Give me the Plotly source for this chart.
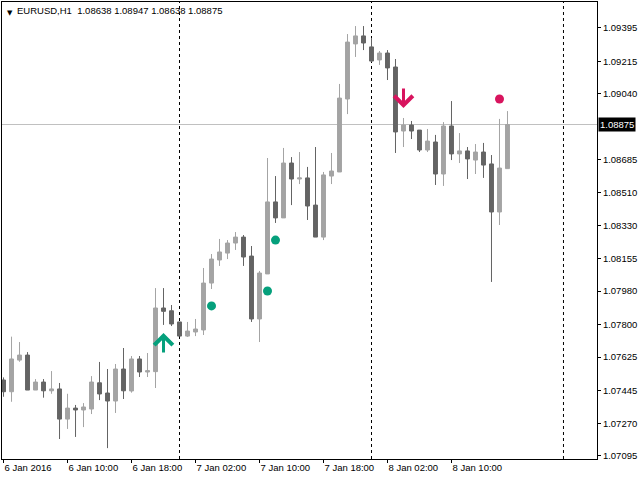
import plotly.graph_objects as go

# ---------------- data (EURUSD H1) ----------------
symbol_title = "EURUSD,H1"
first_bar_time = "2016-01-06 02:00"

open_ = [1.07502, 1.07439, 1.07609, 1.07636, 1.07448, 1.07491, 1.07444, 1.07454, 1.07292, 1.07351,
         1.07341, 1.07346, 1.07487, 1.07432, 1.07389, 1.07561, 1.07443, 1.07615, 1.07545, 1.07547,
         1.07889, 1.07874, 1.07814, 1.07738, 1.07760, 1.07771, 1.08023, 1.08147, 1.08184, 1.08238,
         1.08270, 1.08168, 1.07830, 1.08072, 1.08459, 1.08373, 1.08668, 1.08582, 1.08588, 1.08442,
         1.08270, 1.08598, 1.08620, 1.09012, 1.09308, 1.09351, 1.09292, 1.09222, 1.09259, 1.09184,
         1.08840, 1.08872, 1.08845, 1.08738, 1.08781, 1.08609, 1.08867, 1.08717, 1.08733, 1.08684,
         1.08727, 1.08663, 1.08405, 1.08638]

high = [1.07516, 1.07735, 1.07706, 1.07652, 1.07507, 1.07507, 1.07550, 1.07486, 1.07428, 1.07368,
        1.07378, 1.07523, 1.07599, 1.07561, 1.07588, 1.07674, 1.07631, 1.07631, 1.07647, 1.07996,
        1.07996, 1.07905, 1.07814, 1.07814, 1.07830, 1.08104, 1.08179, 1.08260, 1.08254, 1.08297,
        1.08281, 1.08222, 1.08088, 1.08695, 1.08598, 1.08749, 1.08700, 1.08727, 1.08647, 1.08754,
        1.08620, 1.08722, 1.09093, 1.09361, 1.09404, 1.09404, 1.09340, 1.09270, 1.09275, 1.09227,
        1.08910, 1.08894, 1.08845, 1.08851, 1.08819, 1.08888, 1.09001, 1.08829, 1.08754, 1.08770,
        1.08776, 1.08711, 1.08905, 1.08947]

low = [1.07412, 1.07385, 1.07600, 1.07448, 1.07448, 1.07407, 1.07428, 1.07185, 1.07239, 1.07196,
       1.07249, 1.07319, 1.07394, 1.07136, 1.07325, 1.07400, 1.07434, 1.07518, 1.07518, 1.07459,
       1.07798, 1.07792, 1.07738, 1.07733, 1.07738, 1.07744, 1.07991, 1.08115, 1.08152, 1.08201,
       1.08115, 1.07814, 1.07706, 1.08072, 1.08346, 1.08373, 1.08442, 1.08555, 1.08362, 1.08270,
       1.08254, 1.08555, 1.08620, 1.08931, 1.09238, 1.09275, 1.09211, 1.09195, 1.09114, 1.08722,
       1.08754, 1.08797, 1.08727, 1.08727, 1.08550, 1.08545, 1.08684, 1.08668, 1.08582, 1.08609,
       1.08588, 1.08029, 1.08335, 1.08638]

close = [1.07439, 1.07615, 1.07636, 1.07448, 1.07491, 1.07444, 1.07454, 1.07292, 1.07351, 1.07341,
         1.07357, 1.07491, 1.07427, 1.07389, 1.07561, 1.07444, 1.07615, 1.07545, 1.07552, 1.07889,
         1.07871, 1.07803, 1.07738, 1.07765, 1.07776, 1.08023, 1.08152, 1.08190, 1.08238, 1.08270,
         1.08163, 1.07830, 1.08077, 1.08459, 1.08373, 1.08668, 1.08582, 1.08588, 1.08437, 1.08270,
         1.08604, 1.08625, 1.09017, 1.09318, 1.09351, 1.09313, 1.09216, 1.09259, 1.09179, 1.08835,
         1.08872, 1.08840, 1.08738, 1.08786, 1.08609, 1.08867, 1.08717, 1.08733, 1.08690, 1.08727,
         1.08657, 1.08405, 1.08641, 1.08875]

# x tick labels (bar index -> label)
xtick_bars = [0, 8, 16, 24, 32, 40, 48, 56]
xtick_labels = ["6 Jan 2016", "6 Jan 10:00", "6 Jan 18:00", "7 Jan 02:00",
                "7 Jan 10:00", "7 Jan 18:00", "8 Jan 02:00", "8 Jan 10:00"]

# y tick labels
ytick_values = [1.09395, 1.09215, 1.09040, 1.08685, 1.08510, 1.08330, 1.08155,
                1.07980, 1.07800, 1.07625, 1.07445, 1.07270, 1.07095]

# day separators (bar index of 00:00)
separator_bars = [22, 46, 70]

# signals
buy_arrow_bars = [20]
buy_arrow_prices = [1.07755]
sell_arrow_bars = [50]
sell_arrow_prices = [1.08964]
buy_dot_bars = [26, 33, 34]
buy_dot_prices = [1.07900, 1.07980, 1.08254]
sell_dot_bars = [62]
sell_dot_prices = [1.09012]

current_price = 1.08875
last_ohlc = [1.08638, 1.08947, 1.08638, 1.08875]

# ---------------- style ----------------
BULL = "#a4a4a4"
BEAR = "#646464"
GREEN = "#05a07c"
RED = "#d8145e"
FONT = "Liberation Sans"
FS = 9.5

bars = list(range(len(open_)))

fig = go.Figure()

fig.add_trace(go.Candlestick(
    x=bars, open=open_, high=high, low=low, close=close,
    increasing=dict(line=dict(color=BULL, width=1), fillcolor=BULL),
    decreasing=dict(line=dict(color=BEAR, width=1), fillcolor=BEAR),
    whiskerwidth=0, showlegend=False, hoverinfo="skip",
))

fig.add_trace(go.Scatter(x=buy_dot_bars, y=buy_dot_prices, mode="markers",
                         marker=dict(size=9, color=GREEN), showlegend=False, hoverinfo="skip"))
fig.add_trace(go.Scatter(x=sell_dot_bars, y=sell_dot_prices, mode="markers",
                         marker=dict(size=9, color=RED), showlegend=False, hoverinfo="skip"))

shapes = [dict(type="line", xref="paper", x0=0, x1=1, yref="y", y0=current_price, y1=current_price,
               line=dict(color="#c0c0c0", width=1), layer="below")]
for b in separator_bars:
    shapes.append(dict(type="line", xref="x", x0=b, x1=b, yref="paper", y0=0, y1=1,
                       line=dict(color="black", width=1, dash="3px,3px"), layer="below"))

annotations = []
for b, p in zip(buy_arrow_bars, buy_arrow_prices):
    annotations.append(dict(x=b, y=p, xref="x", yref="y", ax=0, ay=21, text="",
                            showarrow=True, arrowhead=4, arrowsize=1.2, arrowwidth=3,
                            arrowcolor=GREEN))
for b, p in zip(sell_arrow_bars, sell_arrow_prices):
    annotations.append(dict(x=b, y=p, xref="x", yref="y", ax=0, ay=-21, text="",
                            showarrow=True, arrowhead=4, arrowsize=1.2, arrowwidth=3,
                            arrowcolor=RED))

# header text
annotations.append(dict(xref="paper", yref="paper", x=0, y=1, xanchor="left", yanchor="top",
                        xshift=3, yshift=-5, text="▼", showarrow=False,
                        font=dict(family="DejaVu Sans", size=7, color="black")))
header = symbol_title + "\u00a0\u00a0" + " ".join(f"{v:.5f}" for v in last_ohlc)
annotations.append(dict(xref="paper", yref="paper", x=0, y=1, xanchor="left", yanchor="top",
                        xshift=13, yshift=-1, text=header, showarrow=False,
                        font=dict(family=FONT, size=FS, color="black")))
# current price label
annotations.append(dict(xref="paper", yref="y", x=1, y=current_price, xanchor="left",
                        yanchor="middle", xshift=1, text=f"{current_price:.5f}", showarrow=False,
                        bgcolor="black", borderpad=1,
                        font=dict(family=FONT, size=FS, color="white")))

fig.update_layout(
    width=640, height=480,
    margin=dict(l=2, r=43, t=2, b=21),
    paper_bgcolor="white", plot_bgcolor="white",
    shapes=shapes, annotations=annotations,
    font=dict(family=FONT, size=FS, color="black"),
    xaxis=dict(range=[-0.19, 74.19], tickmode="array", tickvals=xtick_bars, ticktext=xtick_labels,
               ticks="outside", ticklen=3, tickcolor="black", showline=True, mirror=True,
               linecolor="black", linewidth=1, showgrid=False, zeroline=False,
               ticklabelposition="outside right", rangeslider=dict(visible=False),
               tickfont=dict(family=FONT, size=FS, color="black")),
    yaxis=dict(side="right", range=[1.070775, 1.095333], tickmode="array", tickvals=ytick_values,
               ticktext=[f"{v:.5f}" for v in ytick_values], ticks="outside", ticklen=3,
               tickcolor="black", showline=True, mirror=True, linecolor="black", linewidth=1,
               showgrid=False, zeroline=False,
               tickfont=dict(family=FONT, size=FS, color="black")),
)

fig.write_html("out.html", config={"displayModeBar": False},
               post_script="document.body.style.margin='0';document.body.style.overflow='hidden';")
